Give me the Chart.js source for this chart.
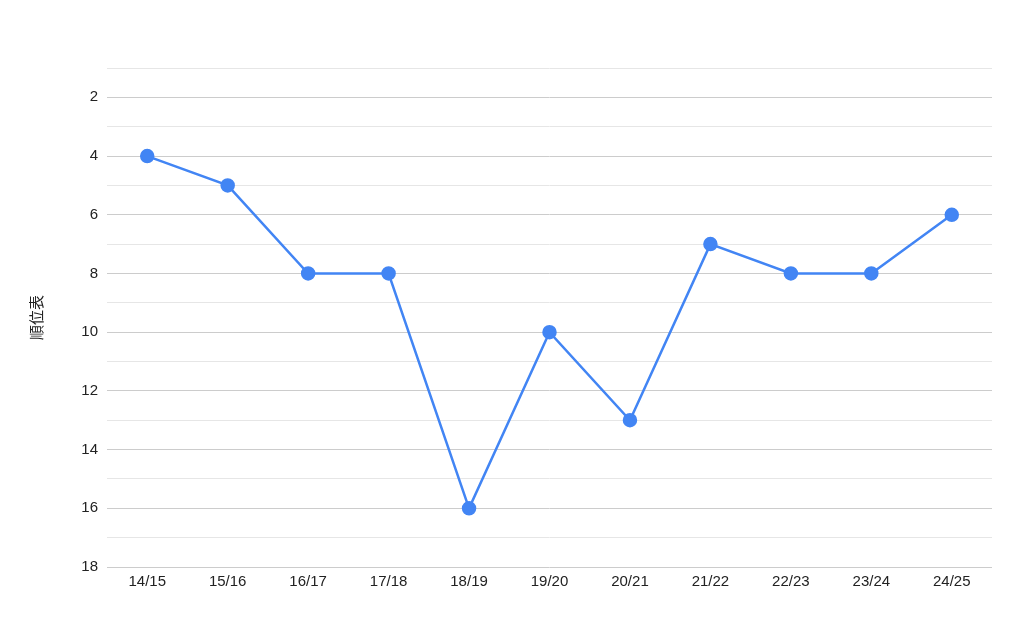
<!DOCTYPE html>
<html>
<head>
<meta charset="utf-8">
<script src="https://cdn.jsdelivr.net/npm/chart.js@4"></script>
<style>
  html, body { margin: 0; padding: 0; background: #fff; }
  #wrap { width: 1024px; height: 623px; }
</style>
</head>
<body>
<div id="wrap"><canvas id="rankChart" width="1024" height="623"></canvas></div>
<script>
const seasons = ["14/15", "15/16", "16/17", "17/18", "18/19", "19/20", "20/21", "21/22", "22/23", "23/24", "24/25"];
const ranks = [4, 5, 8, 8, 16, 10, 13, 7, 8, 8, 6];
const axisTitle = "順位表";
const rankMin = 1;
const rankMax = 18;

const fontFamily = "'Liberation Sans', Arial, sans-serif";

function initChart() {
  const ctx = document.getElementById("rankChart");

  new Chart(ctx, {
    type: "line",
    data: {
      labels: seasons,
      datasets: [
        {
          data: ranks,
          borderColor: "#4285f4",
          backgroundColor: "#4285f4",
          borderWidth: 2.5,
          pointRadius: 6,
          pointHoverRadius: 6,
          tension: 0
        }
      ]
    },
    options: {
      responsive: false,
      animation: false,
      layout: {
        padding: { top: 68, right: 32, bottom: 0, left: 0 }
      },
      plugins: {
        legend: { display: false },
        tooltip: { enabled: false }
      },
      scales: {
        x: {
          offset: true,
          grid: { display: false, drawTicks: false },
          border: { display: false },
          ticks: {
            padding: 6,
            color: "#222",
            font: { family: fontFamily, size: 15 }
          },
          afterFit(scale) {
            scale.height = 56;
          }
        },
        y: {
          reverse: true,
          min: rankMin,
          max: rankMax,
          border: { display: false },
          grid: {
            drawTicks: false,
            lineWidth: 1,
            color: (c) => (c.tick && c.tick.value % 2 === 0 ? "#cccccc" : "#e6e6e6")
          },
          ticks: {
            stepSize: 1,
            autoSkip: false,
            padding: 9,
            color: "#222",
            font: { family: fontFamily, size: 15 },
            callback: (v) => (v % 2 === 0 ? v : "")
          },
          title: {
            display: true,
            text: axisTitle,
            color: "#222",
            font: { family: "'Noto Sans CJK JP', sans-serif", size: 15 },
            padding: { top: 27, bottom: 0 }
          },
          afterFit(scale) {
            scale.width = 107;
          }
        }
      }
    }
  });
}

document.addEventListener("DOMContentLoaded", initChart);
</script>
</body>
</html>
